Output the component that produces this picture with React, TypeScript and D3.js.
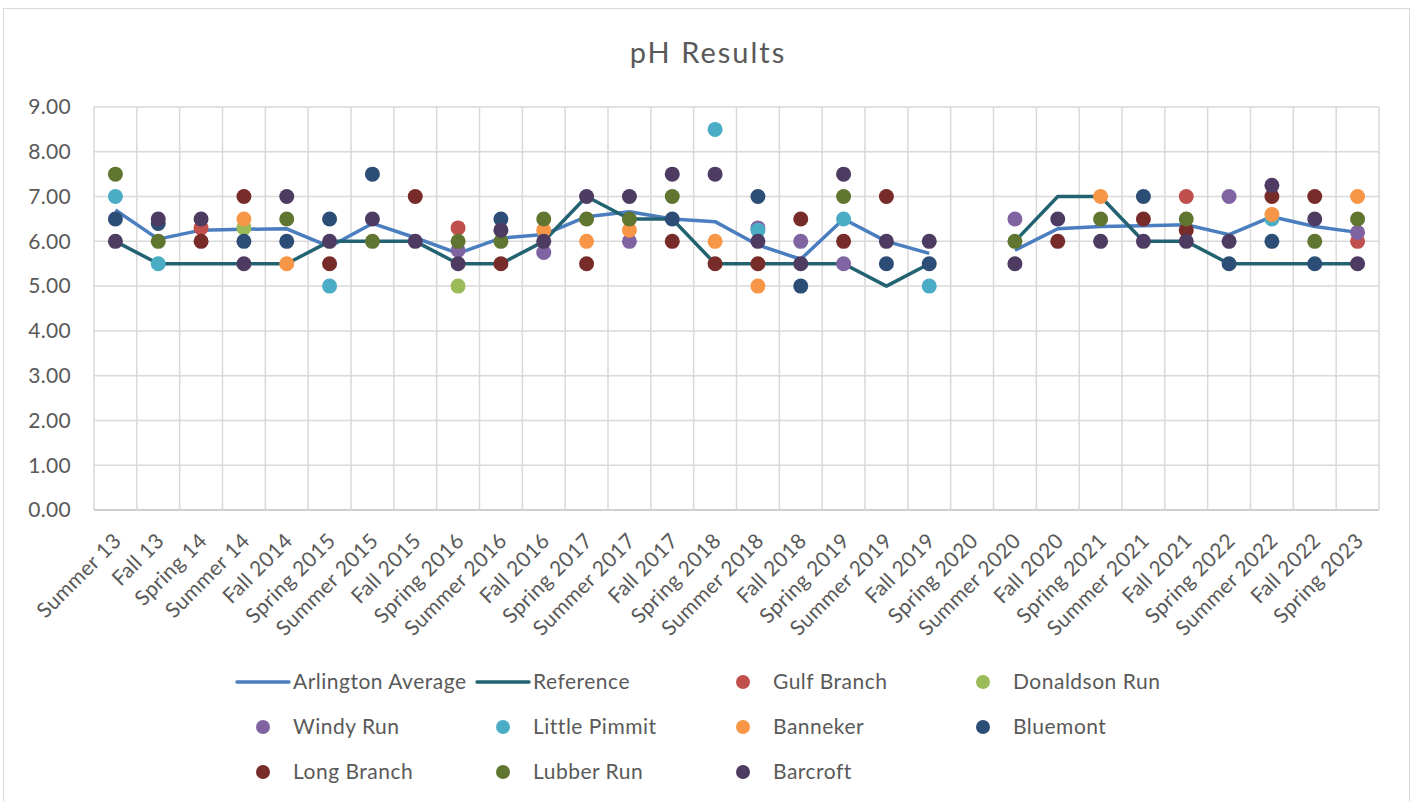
import React from 'react';
import * as d3 from 'd3';

// pH results by sampling season
const categories = [
  'Summer 13', 'Fall 13', 'Spring 14', 'Summer 14', 'Fall 2014', 'Spring 2015',
  'Summer 2015', 'Fall 2015', 'Spring 2016', 'Summer 2016', 'Fall 2016', 'Spring 2017',
  'Summer 2017', 'Fall 2017', 'Spring 2018', 'Summer 2018', 'Fall 2018', 'Spring 2019',
  'Summer 2019', 'Fall 2019', 'Spring 2020', 'Summer 2020', 'Fall 2020', 'Spring 2021',
  'Summer 2021', 'Fall 2021', 'Spring 2022', 'Summer 2022', 'Fall 2022', 'Spring 2023'
];

const _ = null;

const arlingtonAverage = [6.70, 6.05, 6.25, 6.27, 6.28, 5.88, 6.40, 6.08, 5.73, 6.07, 6.15, 6.55, 6.66, 6.50, 6.44, 5.92, 5.60, 6.50, 6.00, 5.73, _, 5.80, 6.28, 6.33, 6.35, 6.37, 6.15, 6.55, 6.33, 6.20];
const reference = [6.0, 5.5, 5.5, 5.5, 5.5, 6.0, 6.0, 6.0, 5.5, 5.5, 6.0, 7.0, 6.5, 6.5, 5.5, 5.5, 5.5, 5.5, 5.0, 5.5, _, 6.0, 7.0, 7.0, 6.0, 6.0, 5.5, 5.5, 5.5, 5.5];

const gulfBranch = [_, _, 6.3, _, _, _, _, _, 6.3, _, _, _, _, _, _, _, _, _, _, _, _, _, _, _, _, 7.0, _, _, _, 6.0];
const donaldsonRun = [_, _, _, 6.3, _, _, _, _, 5.0, _, _, _, _, _, _, _, _, _, _, _, _, _, _, _, _, _, _, _, _, _];
const windyRun = [_, _, _, _, _, _, _, _, 5.8, _, 5.75, _, 6.0, _, _, 6.3, 6.0, 5.5, _, _, _, 6.5, _, _, _, _, 7.0, _, _, 6.2];
const littlePimmit = [7.0, 5.5, _, _, _, 5.0, _, _, _, _, _, _, _, _, 8.5, 6.25, _, 6.5, _, 5.0, _, _, _, _, _, _, _, 6.5, _, _];
const banneker = [_, _, _, 6.5, 5.5, _, _, _, _, _, 6.25, 6.0, 6.25, _, 6.0, 5.0, _, _, _, _, _, _, _, 7.0, _, _, _, 6.6, _, 7.0];
const bluemont = [6.5, 6.4, _, 6.0, 6.0, 6.5, 7.5, _, _, 6.5, _, _, _, 6.5, _, 7.0, 5.0, _, 5.5, 5.5, _, _, _, _, 7.0, _, 5.5, 6.0, 5.5, _];
const longBranch = [_, _, 6.0, 7.0, _, 5.5, _, 7.0, _, 5.5, _, 5.5, _, 6.0, 5.5, 5.5, 6.5, 6.0, 7.0, _, _, _, 6.0, _, 6.5, 6.25, _, 7.0, 7.0, _];
const lubberRun = [7.5, 6.0, _, _, 6.5, _, 6.0, _, 6.0, 6.0, 6.5, 6.5, 6.5, 7.0, _, _, _, 7.0, _, _, _, 6.0, _, 6.5, _, 6.5, _, _, 6.0, 6.5];
const barcroft = [6.0, 6.5, 6.5, 5.5, 7.0, 6.0, 6.5, 6.0, 5.5, 6.25, 6.0, 7.0, 7.0, 7.5, 7.5, 6.0, 5.5, 7.5, 6.0, 6.0, _, 5.5, 6.5, 6.0, 6.0, 6.0, 6.0, 7.25, 6.5, 5.5];

const yTicks = [0, 1, 2, 3, 4, 5, 6, 7, 8, 9];

const lineSeries = [
  { name: 'Arlington Average', values: arlingtonAverage, color: '#4a7ebf' },
  { name: 'Reference', values: reference, color: '#236371' }
];

const markerSeries = [
  { name: 'Gulf Branch', values: gulfBranch, color: '#c0504d' },
  { name: 'Donaldson Run', values: donaldsonRun, color: '#9bbb59' },
  { name: 'Windy Run', values: windyRun, color: '#8064a2' },
  { name: 'Little Pimmit', values: littlePimmit, color: '#4bacc6' },
  { name: 'Banneker', values: banneker, color: '#f79646' },
  { name: 'Bluemont', values: bluemont, color: '#2c4d75' },
  { name: 'Long Branch', values: longBranch, color: '#772c2a' },
  { name: 'Lubber Run', values: lubberRun, color: '#5f7530' },
  { name: 'Barcroft', values: barcroft, color: '#4d3b62' }
];

const FONT = 'Lato, "Open Sans", sans-serif';
const TEXT = '#595959';

export default function App() {
  const width = 1414;
  const height = 801;
  const plot = { left: 94, right: 1379, top: 107, bottom: 510 };

  const x = d3.scaleBand<string>()
    .domain(categories)
    .range([plot.left, plot.right])
    .padding(0);

  const y = d3.scaleLinear()
    .domain([0, 9])
    .range([plot.bottom, plot.top]);

  const cx = (i: number) => (x(categories[i]) as number) + x.bandwidth() / 2;

  const line = d3.line<number | null>()
    .defined(d => d !== null)
    .x((d, i) => cx(i))
    .y(d => y(d as number));

  // legend: 4 columns, 3 rows
  const legendItems = [
    ...lineSeries.map(s => ({ ...s, kind: 'line' })),
    ...markerSeries.map(s => ({ ...s, kind: 'marker' }))
  ];
  const legendX = d3.scaleLinear().domain([0, 1]).range([233, 473]);
  const legendY = d3.scaleLinear().domain([0, 1]).range([682, 727]);

  return (
    <div style={{ position: 'absolute', left: 0, top: 0 }}>
      <svg width={width} height={height} style={{ display: 'block', background: '#fff' }}>
        <rect x={3.5} y={8.5} width={1406} height={800} fill="#fff" stroke="#d9d9d9" strokeWidth={1} />

        <text x={708} y={63} textAnchor="middle" fontFamily={FONT} fontSize={29} letterSpacing={2} fill={TEXT}>pH Results</text>

        {/* horizontal gridlines */}
        {yTicks.map(t => (
          <line key={'h' + t} x1={plot.left} x2={plot.right} y1={y(t)} y2={y(t)}
            stroke={t === 0 ? '#bfbfbf' : '#d9d9d9'} strokeWidth={1.5} />
        ))}
        {/* vertical gridlines at category boundaries */}
        {categories.map((c, i) => (
          <line key={'v' + i} x1={x(c) as number} x2={x(c) as number} y1={plot.top} y2={plot.bottom}
            stroke="#d9d9d9" strokeWidth={1.5} />
        ))}
        <line x1={plot.right} x2={plot.right} y1={plot.top} y2={plot.bottom} stroke="#d9d9d9" strokeWidth={1.5} />

        {/* y tick labels */}
        {yTicks.map(t => (
          <text key={'yt' + t} x={71} y={y(t)} dy="0.35em" textAnchor="end"
            fontFamily={FONT} fontSize={21} letterSpacing={0.3} fill={TEXT}>{t.toFixed(2)}</text>
        ))}

        {/* x tick labels */}
        {categories.map((c, i) => (
          <text key={'xt' + i} transform={`translate(${cx(i) + 2},${plot.bottom + 27}) rotate(-45)`}
            textAnchor="end" dy="0.35em" fontFamily={FONT} fontSize={21} letterSpacing={0.4} fill={TEXT}>{c}</text>
        ))}

        {/* lines */}
        {lineSeries.map(s => (
          <path key={s.name} d={line(s.values) || ''} fill="none" stroke={s.color}
            strokeWidth={3.5} strokeLinejoin="round" />
        ))}

        {/* markers */}
        {markerSeries.map(s => (
          <g key={s.name}>
            {s.values.map((v, i) => v === null ? null : (
              <circle key={i} cx={cx(i)} cy={y(v)} r={7.5} fill={s.color} />
            ))}
          </g>
        ))}

        {/* legend */}
        {legendItems.map((item, k) => {
          const col = k % 4;
          const row = Math.floor(k / 4);
          const lx = legendX(col);
          const ly = legendY(row);
          return (
            <g key={'lg' + k}>
              {item.kind === 'line'
                ? <line x1={lx + 4} x2={lx + 56} y1={ly} y2={ly} stroke={item.color} strokeWidth={3.5} strokeLinecap="round" />
                : <circle cx={lx + 30} cy={ly} r={7} fill={item.color} />}
              <text x={lx + 60} y={ly} dy="0.35em" fontFamily={FONT} fontSize={21} letterSpacing={0.5} fill={TEXT}>{item.name}</text>
            </g>
          );
        })}
      </svg>
    </div>
  );
}
